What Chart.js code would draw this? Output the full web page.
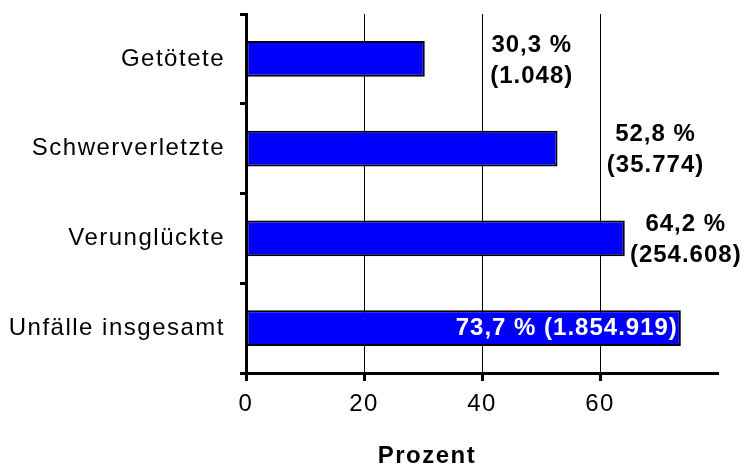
<!DOCTYPE html>
<html lang="de">
<head>
<meta charset="UTF-8">
<title>Unfälle</title>
<script src="https://cdn.jsdelivr.net/npm/chart.js"></script>
<style>
  body { margin: 0; background: #fff; }
  .box { position: relative; width: 745px; height: 466px; }
</style>
</head>
<body>
<div class="box"><canvas id="chart"></canvas></div>
<script>
// daten
const kategorien = ['Getötete', 'Schwerverletzte', 'Verunglückte', 'Unfälle insgesamt'];
const prozent = [30.3, 52.8, 64.2, 73.7];
const anzahl = [1048, 35774, 254608, 1854919];
const xTicks = [0, 20, 40, 60];
const achsenTitel = 'Prozent';

const schrift = "'Liberation Sans', Arial, sans-serif";

const fmtProzent = v => v.toLocaleString('de-DE', { minimumFractionDigits: 1 }) + ' %';
const fmtAnzahl = v => '(' + v.toLocaleString('de-DE') + ')';

// beschriftung der balken + achsentitel
const beschriftung = {
  id: 'beschriftung',
  beforeDraw(chart) {
    chart.ctx.letterSpacing = '1.5px';
  },
  afterDatasetsDraw(chart, args, opts) {
    const ctx = chart.ctx;
    const meta = chart.getDatasetMeta(0);
    ctx.save();
    ctx.letterSpacing = '1px';
    ctx.font = 'bold 24px ' + schrift;
    ctx.textBaseline = 'middle';
    meta.data.forEach((bar, i) => {
      const z1 = fmtProzent(prozent[i]);
      const z2 = fmtAnzahl(anzahl[i]);
      if (opts.innen[i]) {
        ctx.fillStyle = '#fff';
        ctx.textAlign = 'right';
        ctx.fillText(z1 + ' ' + z2, bar.x - 3, bar.y);
      } else {
        ctx.fillStyle = '#000';
        ctx.textAlign = 'center';
        const x = bar.x + opts.abstand[i];
        ctx.fillText(z1, x, bar.y - 14);
        ctx.fillText(z2, x, bar.y + 17);
      }
    });
    const xs = chart.scales.x;
    ctx.letterSpacing = '1.5px';
    ctx.fillStyle = '#000';
    ctx.textAlign = 'center';
    ctx.textBaseline = 'alphabetic';
    ctx.fillText(achsenTitel, (xs.left + xs.right) / 2 + opts.titelVersatz, xs.bottom - 3);
    ctx.restore();
  }
};

const ctx = document.getElementById('chart');
new Chart(ctx, {
  type: 'bar',
  data: {
    labels: kategorien,
    datasets: [{
      data: prozent,
      backgroundColor: '#0000ff',
      borderColor: '#000',
      borderWidth: 2,
      borderSkipped: false,
      barPercentage: 0.4,
      categoryPercentage: 1
    }]
  },
  plugins: [beschriftung],
  options: {
    indexAxis: 'y',
    responsive: true,
    maintainAspectRatio: false,
    animation: false,
    layout: { padding: { top: 14, right: 27, left: 0, bottom: 0 } },
    plugins: {
      legend: { display: false },
      tooltip: { enabled: false },
      beschriftung: {
        innen: [false, false, false, true],
        abstand: [107, 98, 61, 0],
        titelVersatz: -55
      }
    },
    scales: {
      x: {
        min: 0,
        max: 80,
        afterBuildTicks: axis => { axis.ticks = xTicks.map(v => ({ value: v })); },
        afterFit: s => { s.height = 93; s.paddingLeft = 0; s.paddingRight = 0; },
        ticks: { color: '#000', font: { family: schrift, size: 24 }, padding: 9 },
        grid: { color: '#000', lineWidth: 1, tickLength: 8, tickWidth: 3, tickColor: '#000' },
        border: { color: '#000', width: 3 }
      },
      y: {
        afterFit: s => { s.width = 246; s.paddingTop = 0; s.paddingBottom = 0; },
        ticks: { color: '#000', font: { family: schrift, size: 24 }, padding: 15 },
        grid: { drawOnChartArea: false, offset: true, tickLength: 6, tickWidth: 3, tickColor: '#000', color: '#000' },
        border: { color: '#000', width: 3 }
      }
    }
  }
});
</script>
</body>
</html>
